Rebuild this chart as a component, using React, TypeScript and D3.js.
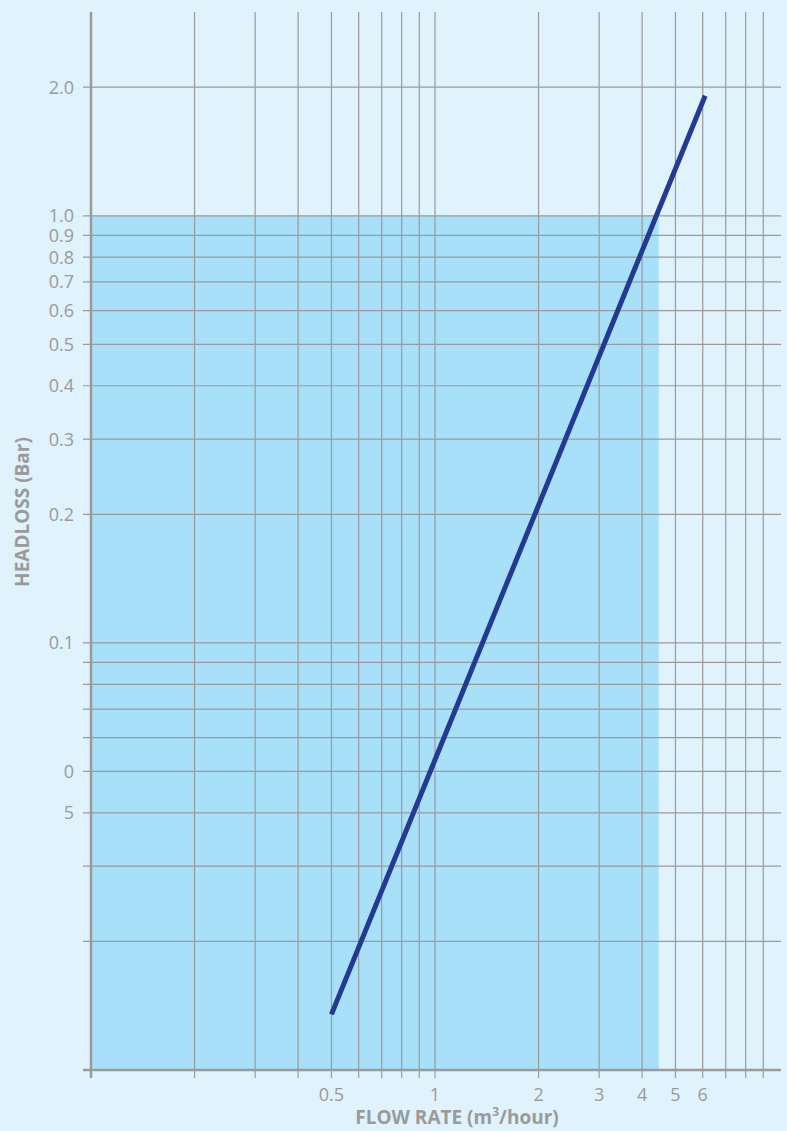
import React, { useEffect, useRef } from 'react';
import * as d3 from 'd3';

// Headloss curve (log-log straight line)
const flowRates = [0.5, 6.1];
const headloss = [0.0135, 1.91];

// Grid values
const xGrid = [0.2, 0.3, 0.4, 0.5, 0.6, 0.7, 0.8, 0.9, 1, 2, 3, 4, 5, 6, 7, 8, 9];
const xTickValues = [0.5, 1, 2, 3, 4, 5, 6];
const xTickLabels = ['0.5', '1', '2', '3', '4', '5', '6'];
const yGrid = [2, 1, 0.9, 0.8, 0.7, 0.6, 0.5, 0.4, 0.3, 0.2, 0.1, 0.09, 0.08, 0.07, 0.06, 0.05, 0.04, 0.03, 0.02];
const yTickValues = [2, 1, 0.9, 0.8, 0.7, 0.6, 0.5, 0.4, 0.3, 0.2, 0.1, 0.05, 0.04];
const yTickLabels = ['2.0', '1.0', '0.9', '0.8', '0.7', '0.6', '0.5', '0.4', '0.3', '0.2', '0.1', '0', '5'];

// Shaded operating zone
const zoneMaxFlow = 4.47;
const zoneMaxHead = 1.0;

const W = 787;
const H = 1131;

const App: React.FC = () => {
  const svgRef = useRef<SVGSVGElement>(null);

  useEffect(() => {
    if (!svgRef.current) return;
    document.body.style.margin = '0';
    const svg = d3.select(svgRef.current);
    svg.selectAll('*').remove();

    const left = 91, right = 779, top = 12, bottom = 1070;
    const font = "'Open Sans', 'Noto Sans', sans-serif";
    const grey = '#9a9a9a';

    const x = d3.scaleLog().domain([0.1, 10]).range([left, right]);
    const y = d3.scaleLog().domain([0.01, 3]).range([bottom, top]);

    svg.append('rect').attr('width', W).attr('height', H).attr('fill', '#e0f2fc');

    // Shaded zone
    svg.append('rect')
      .attr('x', left)
      .attr('y', y(zoneMaxHead))
      .attr('width', x(zoneMaxFlow) - left)
      .attr('height', bottom - y(zoneMaxHead))
      .attr('fill', '#a9e0f9');

    // Vertical grid
    svg.append('g').selectAll('line')
      .data(xGrid)
      .enter().append('line')
      .attr('x1', d => x(d)).attr('x2', d => x(d))
      .attr('y1', top).attr('y2', bottom + 8)
      .attr('stroke', grey).attr('stroke-width', 1.2);

    // Horizontal grid
    svg.append('g').selectAll('line')
      .data(yGrid)
      .enter().append('line')
      .attr('x1', left - 8).attr('x2', right + 2)
      .attr('y1', d => y(d)).attr('y2', d => y(d))
      .attr('stroke', grey).attr('stroke-width', 1.2);

    // Axes
    svg.append('line')
      .attr('x1', left).attr('x2', left)
      .attr('y1', top).attr('y2', bottom + 8)
      .attr('stroke', grey).attr('stroke-width', 2.5);
    svg.append('line')
      .attr('x1', left - 8).attr('x2', right + 2)
      .attr('y1', bottom).attr('y2', bottom)
      .attr('stroke', grey).attr('stroke-width', 2.5);

    // Curve
    const line = d3.line<number>()
      .x((d, i) => x(flowRates[i]))
      .y(d => y(d));
    svg.append('path')
      .datum(headloss)
      .attr('d', line)
      .attr('fill', 'none')
      .attr('stroke', '#233a92')
      .attr('stroke-width', 5);

    // Y tick labels
    svg.append('g').selectAll('text')
      .data(yTickValues)
      .enter().append('text')
      .attr('x', 74)
      .attr('y', d => y(d))
      .attr('dy', '0.36em')
      .attr('text-anchor', 'end')
      .style('font-family', font)
      .style('font-size', '18px')
      .style('fill', grey)
      .text((d, i) => yTickLabels[i]);

    // X tick labels
    svg.append('g').selectAll('text')
      .data(xTickValues)
      .enter().append('text')
      .attr('x', d => x(d))
      .attr('y', 1101)
      .attr('text-anchor', 'middle')
      .style('font-family', font)
      .style('font-size', '18px')
      .style('fill', grey)
      .text((d, i) => xTickLabels[i]);

    // Axis titles
    const xt = svg.append('text')
      .attr('x', 457)
      .attr('y', 1124)
      .attr('text-anchor', 'middle')
      .style('font-family', font)
      .style('font-size', '19px')
      .style('font-weight', 'bold')
      .style('fill', grey);
    xt.append('tspan').text('FLOW RATE (m');
    xt.append('tspan').attr('dy', -8).style('font-size', '12px').text('3');
    xt.append('tspan').attr('dy', 8).text('/hour)');

    svg.append('text')
      .attr('transform', 'translate(29,512) rotate(-90)')
      .attr('text-anchor', 'middle')
      .style('font-family', font)
      .style('font-size', '19px')
      .style('font-weight', 'bold')
      .style('fill', grey)
      .text('HEADLOSS (Bar)');
  }, []);

  return <svg ref={svgRef} width={W} height={H} style={{ display: 'block' }} />;
};

export default App;
